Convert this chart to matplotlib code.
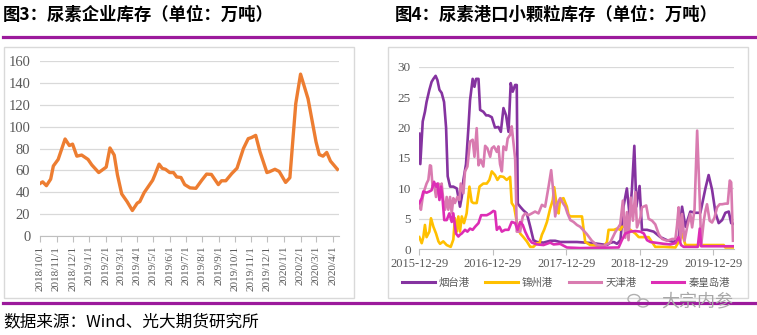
import matplotlib
matplotlib.use('Agg')
import matplotlib.pyplot as plt
from matplotlib.patches import Rectangle, Ellipse
from matplotlib.lines import Line2D
import pandas as pd

plt.rcParams['font.family'] = ['Noto Sans CJK SC', 'DejaVu Sans']

# ---- left chart: 尿素企业库存 (万吨) ----
left_dates = ['2018-10-01', '2018-10-06', '2018-10-13', '2018-10-21', '2018-10-26', '2018-11-04',
              '2018-11-17', '2018-11-25', '2018-12-01', '2018-12-09', '2018-12-18', '2018-12-30',
              '2019-01-06', '2019-01-19', '2019-02-02', '2019-02-09', '2019-02-17', '2019-02-23',
              '2019-03-03', '2019-03-13', '2019-03-23', '2019-04-01', '2019-04-06', '2019-04-14',
              '2019-04-30', '2019-05-04', '2019-05-12', '2019-05-18', '2019-05-24', '2019-06-01',
              '2019-06-08', '2019-06-14', '2019-06-22', '2019-06-29', '2019-07-09', '2019-07-20',
              '2019-07-31', '2019-08-09', '2019-08-18', '2019-08-31', '2019-09-06', '2019-09-14',
              '2019-09-25', '2019-10-05', '2019-10-17', '2019-10-26', '2019-11-01', '2019-11-09',
              '2019-11-17', '2019-11-30', '2019-12-05', '2019-12-15', '2019-12-23', '2020-01-04',
              '2020-01-12', '2020-01-23', '2020-02-01', '2020-02-15', '2020-03-01', '2020-03-07',
              '2020-03-14', '2020-03-21', '2020-03-28', '2020-04-10']
left_vals = [48, 49.5, 46, 52, 64, 70, 88.7, 82.7, 84, 73, 74, 70, 65, 58, 63, 80.5, 74, 56,
             38.5, 31.5, 23.3, 30, 31.5, 39.6, 51, 55.7, 65.7, 61.8, 61, 58, 58, 54, 53.5, 47,
             44, 43.6, 51, 56.6, 56.3, 47, 50.5, 50.5, 57, 62, 80, 89, 90, 92, 77, 58, 58.8, 61,
             59, 49, 53.3, 121, 148, 125.5, 86, 74.5, 73, 76.4, 68.5, 61]

# ---- right chart: 港口小颗粒库存, days since 2015-12-29 ----
port_start = '2015-12-29'
yt_day = [0, 5, 17, 28, 36, 50, 61, 70, 81, 90, 100, 111, 123, 133, 141, 153, 169, 186, 194, 202,
          211, 219, 232, 244, 252, 265, 274, 282, 294, 302, 318, 332, 343, 360, 376, 393, 405, 418,
          431, 443, 454, 464, 476, 484, 489, 501, 517, 534, 551, 567, 584, 617, 650, 675, 700, 783,
          866, 932, 948, 966, 982, 999, 1014, 1031, 1045, 1056, 1068, 1078, 1094, 1106, 1131, 1164,
          1197, 1230, 1263, 1288, 1305, 1322, 1346, 1371, 1396, 1421, 1437, 1454, 1471, 1487, 1504,
          1520, 1537, 1549, 1558]
yt_val = [19, 14, 21, 22.6, 24.2, 26.2, 27.5, 28, 28.5, 27.8, 26.2, 25.7, 24.2, 20, 12, 10.3,
          10.3, 10, 8.6, 7, 8.6, 11.4, 14, 20, 24.5, 28, 26.7, 28, 28, 22.9, 22.6, 22, 22, 21.7,
          20, 20.1, 19.3, 23.2, 22, 19.3, 27.3, 25.9, 27, 27, 7.5, 7, 6.4, 5.9, 3.7, 1.5, 1.2, 1.1,
          1.4, 1.4, 1.2, 1.2, 1, 0.7, 1.05, 1.2, 0.9, 1.5, 7, 10, 5.4, 9.8, 17, 7, 10.4, 3.2, 3.2,
          2.9, 2, 1.5, 1.2, 1.8, 7, 3.7, 6.2, 6, 6, 10, 12.2, 9.8, 6, 4.3, 4.8, 6, 6.2, 4.3, 4.2]

jz_day = [0, 12, 20, 28, 36, 50, 58, 70, 83, 95, 103, 119, 136, 156, 169, 177, 186, 194, 202, 211,
          222, 235, 249, 260, 269, 285, 299, 318, 335, 348, 360, 376, 388, 401, 418, 434, 451, 459,
          471, 484, 501, 517, 534, 551, 567, 584, 597, 609, 620, 634, 650, 663, 670, 683, 692, 699,
          716, 733, 741, 750, 783, 808, 824, 849, 882, 916, 932, 940, 966, 982, 999, 1006, 1023,
          1048, 1073, 1090, 1139, 1172, 1214, 1272, 1288, 1305, 1322, 1380, 1512, 1520, 1558]
jz_val = [2, 1, 2, 4, 2, 2.9, 5.1, 3.7, 2.6, 1.3, 0.9, 1.3, 0.7, 0.4, 1.6, 5.1, 2.9, 5.4, 2.9,
          5.4, 4.3, 5.9, 10.3, 7.8, 7.6, 7.6, 10.3, 10.8, 10.8, 11.4, 12.8, 12.2, 11.4, 12, 11.9,
          11.4, 11.9, 7.6, 7, 4.5, 2.6, 2, 1.3, 0.4, 0.4, 1, 1, 2.4, 3.2, 4.5, 6.7, 8.1, 10.2, 7,
          5.9, 8.2, 8.4, 7, 5.7, 5.4, 5.4, 5.4, 1.2, 0.7, 0.6, 0.4, 1.2, 3.2, 3.2, 3.4, 3.2, 3.7,
          3.7, 3.2, 2.6, 2, 2, 0.4, 0.4, 0.3, 1.2, 2.6, 0.7, 0.7, 0.7, 0.3, 0.3]

tj_day = [0, 8, 17, 25, 36, 45, 53, 58, 66, 73, 83, 95, 103, 111, 119, 128, 136, 144, 153, 161,
          169, 177, 189, 199, 206, 219, 227, 239, 252, 265, 274, 285, 294, 305, 318, 327, 338, 352,
          360, 371, 385, 393, 401, 410, 418, 431, 439, 451, 459, 468, 476, 481, 484, 501, 514, 526,
          542, 559, 575, 592, 609, 625, 642, 655, 663, 675, 687, 700, 713, 725, 736, 750, 766, 783,
          799, 832, 857, 882, 916, 948, 973, 998, 1011, 1023, 1031, 1039, 1051, 1061, 1073, 1081,
          1098, 1106, 1127, 1139, 1156, 1172, 1189, 1206, 1231, 1256, 1272, 1280, 1288, 1297, 1305,
          1317, 1330, 1346, 1355, 1367, 1380, 1393, 1400, 1413, 1421, 1429, 1442, 1454, 1466, 1479,
          1492, 1504, 1520, 1532, 1542, 1549, 1558]
tj_val = [7.6, 6.5, 8.6, 9.7, 10.8, 11.4, 13.8, 13.7, 10.3, 10.8, 8.6, 10.8, 10, 10.8, 8.1, 6.5,
          8.6, 6.5, 8.6, 5.9, 8.4, 7.6, 8.6, 8.1, 10.8, 9.2, 12.8, 13.6, 17.7, 18, 15.2, 19.9, 13.8,
          14.7, 13.6, 17, 16.6, 15.2, 16.6, 16.9, 16, 16.9, 14, 12.8, 16.9, 16.3, 18.2, 18.8, 20.2,
          17.4, 14.9, 8.1, 2.9, 2.9, 5.4, 5.9, 5.6, 5.9, 6.2, 5.9, 7.3, 7, 10.3, 13, 10.3, 5.4, 7.6,
          8.4, 7.6, 7, 5.9, 4.8, 4.5, 4, 3.7, 2.5, 1.4, 0.7, 0.55, 1.1, 2.8, 4.1, 8, 1.9, 6.1, 1.5,
          8.5, 4.7, 9.4, 3.6, 5.2, 6.9, 7.2, 5, 4.7, 4.1, 2.5, 1.7, 1.4, 1.7, 1.7, 3.9, 6.9, 1.4,
          5.8, 1.4, 3.6, 5.8, 3.6, 6.6, 19.5, 8, 0.7, 4.7, 6.3, 7.4, 4.7, 4.4, 5.2, 6.9, 7.4, 7.4,
          7.5, 7.5, 11.3, 11, 1.4]

qhd_day = [0, 12, 20, 36, 50, 61, 73, 83, 90, 100, 108, 116, 124, 136, 149, 161, 169, 182, 194,
           202, 211, 227, 239, 252, 265, 277, 294, 307, 318, 335, 352, 368, 376, 385, 398, 410, 426,
           443, 459, 476, 488, 501, 514, 526, 542, 559, 584, 617, 650, 667, 699, 733, 799, 990,
           1006, 1023, 1048, 1073, 1098, 1115, 1131, 1148, 1181, 1214, 1247, 1272, 1288, 1300,
           1313, 1383, 1393, 1400, 1446, 1558]
qhd_val = [7.6, 8.4, 9.5, 9.3, 9.5, 9.7, 11.1, 10.3, 10.8, 8.1, 10.3, 8.1, 4.8, 4.8, 5.9, 4.5,
           5.9, 2.6, 2.1, 2.4, 2.6, 3.2, 2.9, 3.4, 3.2, 3.7, 4.3, 5.6, 5.6, 5.6, 5.9, 6.3, 6.2, 3.2,
           3.7, 2.9, 3.2, 3.2, 4.5, 4.3, 3.2, 4.5, 4, 2.9, 1.8, 1.1, 0.8, 0.7, 1.1, 0.8, 0.9, 0.3,
           0.2, 0.3, 1.5, 2.6, 2.9, 3, 2.9, 2.6, 1.5, 1.2, 1.05, 0.9, 0.8, 1, 2, 0.7, 0.4, 0.4, 3.4,
           0.5, 0.5, 0.5]

port_names = ['烟台港', '锦州港', '天津港', '秦皇岛港']
port_colors = ['#8533A0', '#FFC000', '#D97BB0', '#DD2DB5']
port_ticks = ['2015-12-29', '2016-12-29', '2017-12-29', '2018-12-29', '2019-12-29']

W, H = 757, 335
def fx(px):
    return px / W
def fy(py):
    return 1 - py / H

TICK = '#595959'
GRID = '#D9D9D9'
SERIF = 'Liberation Serif'

fig = plt.figure(figsize=(W / 100, H / 100), dpi=100)

# panel frames and purple rules
for x0, x1 in [(4, 354), (388, 748)]:
    fig.add_artist(Rectangle((fx(x0), fy(298)), fx(x1) - fx(x0), fy(47) - fy(298),
                             transform=fig.transFigure, fill=False, ec=GRID, lw=1))
for yy in [36.5, 302.5]:
    fig.add_artist(Line2D([fx(3), fx(755)], [fy(yy), fy(yy)], transform=fig.transFigure,
                          color='#9C1A9C', lw=2.3))

fig.text(fx(3), fy(15), '图3：尿素企业库存（单位：万吨）', fontsize=12.5, fontweight='bold',
         va='center', ha='left')
fig.text(fx(395), fy(15), '图4：尿素港口小颗粒库存（单位：万吨）', fontsize=12.5, fontweight='bold',
         va='center', ha='left')
fig.text(fx(3), fy(322), '数据来源：Wind、光大期货研究所', fontsize=12, va='center', ha='left')

# ---- left axes ----
ax1 = fig.add_axes([fx(40), fy(236), (339 - 40) / W, (236 - 61) / H])
ax1.plot(pd.to_datetime(left_dates), left_vals, color='#ED7D31', lw=2.4, solid_joinstyle='round')
ax1.set_ylim(0, 160)
ax1.set_yticks(range(0, 161, 20))
ax1.set_xlim(pd.Timestamp('2018-10-01'), pd.Timestamp('2020-04-13'))
month_ticks = pd.date_range('2018-10-01', '2020-04-01', freq='MS')
ax1.set_xticks(month_ticks)
ax1.set_xticklabels([f'{d.year}/{d.month}/1' for d in month_ticks], rotation=90,
                    fontsize=8, family=SERIF, color=TICK)
for lab in ax1.get_yticklabels():
    lab.set_family(SERIF)
ax1.tick_params(axis='y', length=0, pad=7, labelsize=10.5, labelcolor=TICK)
ax1.tick_params(axis='x', length=4, color='#BFBFBF', pad=3)
ax1.grid(axis='y', color=GRID, lw=0.9)
ax1.set_axisbelow(True)
for s in ['top', 'right', 'left']:
    ax1.spines[s].set_visible(False)
ax1.spines['bottom'].set_color('#BFBFBF')

# ---- right axes ----
ax2 = fig.add_axes([fx(419.3), fy(249.3), (734 - 419.3) / W, (249.3 - 66.7) / H])
t0 = pd.Timestamp(port_start)
series = [(yt_day, yt_val), (jz_day, jz_val), (tj_day, tj_val), (qhd_day, qhd_val)]
handles = []
for (days, vals), name, col in zip(series, port_names, port_colors):
    dates = t0 + pd.to_timedelta(days, unit='D')
    h, = ax2.plot(dates, vals, color=col, lw=1.9, label=name)
    handles.append(h)
ax2.set_ylim(0, 30)
ax2.set_yticks(range(0, 31, 5))
ax2.set_xlim(t0, t0 + pd.Timedelta(days=1563))
ax2.set_xticks(pd.to_datetime(port_ticks))
ax2.set_xticklabels(port_ticks, fontsize=9, family=SERIF, color=TICK)
for lab in ax2.get_yticklabels():
    lab.set_family(SERIF)
ax2.tick_params(axis='y', length=0, pad=6, labelsize=9.5, labelcolor=TICK)
ax2.tick_params(axis='x', length=4, color='#BFBFBF', pad=2)
ax2.grid(axis='y', color=GRID, lw=0.9)
ax2.set_axisbelow(True)
for s in ['top', 'right', 'left']:
    ax2.spines[s].set_visible(False)
ax2.spines['bottom'].set_color('#BFBFBF')

leg = fig.legend(handles, port_names, loc='center', bbox_to_anchor=(fx(566), fy(283)), ncol=4,
                 frameon=False, fontsize=7.5, handlelength=3.1, columnspacing=1.5,
                 handletextpad=0.4, labelcolor=TICK)
for line in leg.get_lines():
    line.set_linewidth(2.2)

# watermark
fig.add_artist(Ellipse((fx(634), fy(299)), 12 / W, 9 / H, transform=fig.transFigure,
                       fill=False, ec='#B0B0B0', lw=1))
fig.add_artist(Ellipse((fx(643), fy(303)), 11 / W, 8 / H, transform=fig.transFigure,
                       fill=False, ec='#B0B0B0', lw=1))
fig.text(fx(697), fy(301), '大宗内参', fontsize=13, color='#A8A8A8', ha='center', va='center')

fig.savefig('out.png', dpi=100)
